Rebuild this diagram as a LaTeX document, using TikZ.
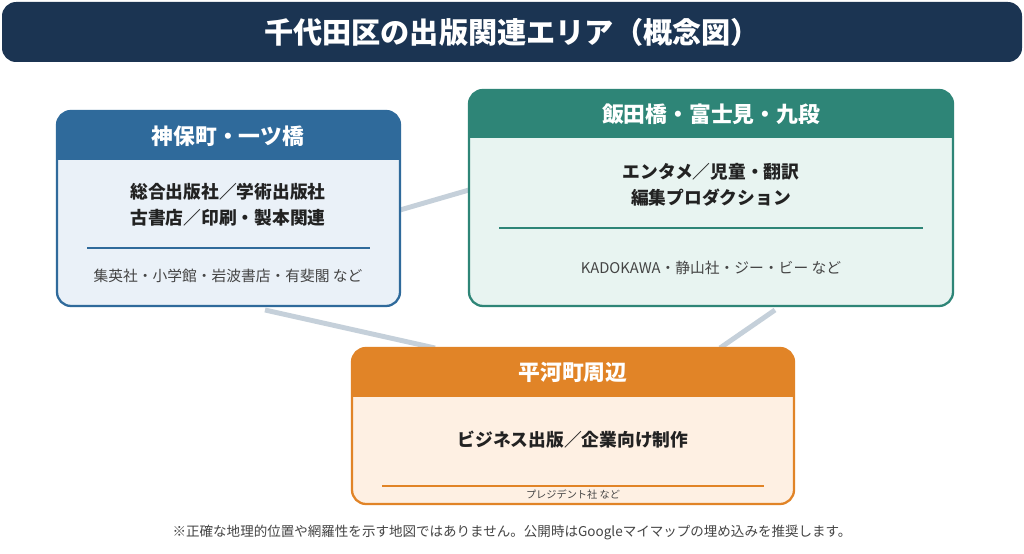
\documentclass[tikz,border=0pt]{standalone}
\usepackage{fontspec}
\setmainfont{Noto Sans CJK JP}
\definecolor{navy}{HTML}{1B3452}
\definecolor{bluh}{HTML}{2F6A9B}
\definecolor{blub}{HTML}{EAF1F8}
\definecolor{teah}{HTML}{2E8577}
\definecolor{teab}{HTML}{E8F4F1}
\definecolor{orah}{HTML}{E18427}
\definecolor{orab}{HTML}{FEF0E3}
\definecolor{conn}{HTML}{C5D0DA}
\definecolor{txt}{HTML}{222222}
\definecolor{sub}{HTML}{444444}
\tikzset{
 hd/.style={text=white,font=\fontsize{12.4}{14}\selectfont\bfseries},
 bd/.style={text=txt,font=\fontsize{10.1}{14.6}\selectfont\bfseries,align=center},
 sm/.style={text=sub,font=\fontsize{8.4}{10}\selectfont},
 cn/.style={conn,line width=2.8pt}
}
\newcommand{\zone}[7]{% x1 y1 x2 y2 yh head body
 \fill[#7,rounded corners=8] (#1,#2) rectangle (#3,#4);
 \begin{scope}
 \clip[rounded corners=8] (#1,#2) rectangle (#3,#4);
 \fill[#6] (#1,#2) rectangle (#3,#5);
 \end{scope}
 \draw[#6,line width=1.3pt,rounded corners=8] (#1,#2) rectangle (#3,#4);
}
\begin{document}
\begin{tikzpicture}[x=0.02cm,y=-0.02cm]
\useasboundingbox (0,0) rectangle (1024,554);
\fill[white] (0,0) rectangle (1024,554);
\fill[navy,rounded corners=8] (2,2) rectangle (1022,62);
\node[text=white,font=\fontsize{16.6}{18}\selectfont\bfseries] (title) at (512,32) {千代田区の出版関連エリア（概念図）};
% connectors
\coordinate (c1a) at (400,210); \coordinate (c1b) at (469,190);
\coordinate (c2a) at (265,310); \coordinate (c2b) at (435,348);
\coordinate (c3a) at (775,310); \coordinate (c3b) at (720,348);
\draw[cn] (c1a) -- (c1b);
\draw[cn] (c2a) -- (c2b);
\draw[cn] (c3a) -- (c3b);
% box 1
\zone{57}{111}{400}{306}{160}{bluh}{blub}
\node[hd] (h1) at (228,136) {神保町・一ツ橋};
\node[bd] (b1) at (228,205) {総合出版社／学術出版社\\古書店／印刷・製本関連};
\draw[bluh,line width=0.9pt] (87,248) -- (370,248);
\node[sm] (s1) at (228,276) {集英社・小学館・岩波書店・有斐閣 など};
% box 2
\zone{469}{90}{953}{306}{138}{teah}{teab}
\node[hd] (h2) at (711,114) {飯田橋・富士見・九段};
\node[bd] (b2) at (711,185) {エンタメ／児童・翻訳\\編集プロダクション};
\draw[teah,line width=0.9pt] (499,228) -- (923,228);
\node[sm] (s2) at (711,268) {KADOKAWA・静山社・ジー・ビー など};
% box 3
\zone{352}{348}{794}{504}{397}{orah}{orab}
\node[hd] (h3) at (573,372) {平河町周辺};
\node[bd] (b3) at (573,440) {ビジネス出版／企業向け制作};
\draw[orah,line width=0.9pt] (382,486) -- (764,486);
\node[sm,font=\fontsize{5.8}{6}\selectfont] (s3) at (573,495) {プレジデント社 など};
\node[text=sub,font=\fontsize{7.7}{9}\selectfont] (foot) at (512,532) {※正確な地理的位置や網羅性を示す地図ではありません。公開時はGoogleマイマップの埋め込みを推奨します。};
\end{tikzpicture}
\end{document}
